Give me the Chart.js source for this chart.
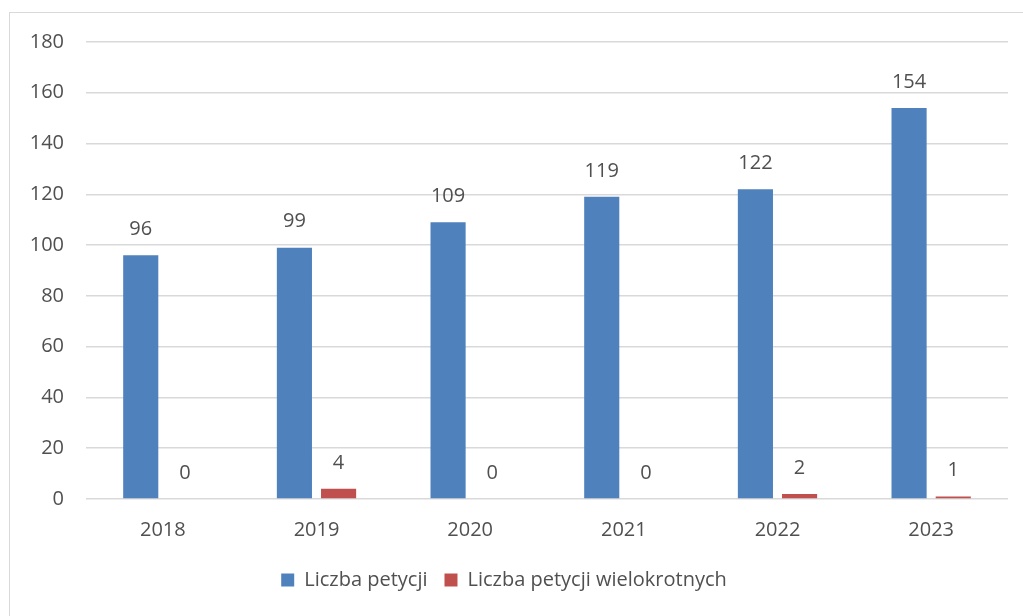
<!DOCTYPE html>
<html>
<head>
<meta charset="utf-8">
<script src="https://cdn.jsdelivr.net/npm/chart.js@4"></script>
<style>
  body { margin: 0; background: #fff; }
  #wrap { position: relative; width: 1023px; height: 616px; overflow: hidden; }
  #frame { position: absolute; left: 9px; top: 12px; width: 1100px; height: 700px; border: 1.5px solid #d9d9d9; }
  canvas { position: absolute; left: 0; top: 0; }
</style>
</head>
<body>
<div id="wrap">
  <div id="frame"></div>
  <canvas id="chart" width="1023" height="616"></canvas>
</div>
<script>
// chart data
const years = ['2018', '2019', '2020', '2021', '2022', '2023'];
const petitions = [96, 99, 109, 119, 122, 154];
const multiPetitions = [0, 4, 0, 0, 2, 1];
const seriesNames = ['Liczba petycji', 'Liczba petycji wielokrotnych'];

const textColor = '#505050';
const fontFamily = '"Open Sans", sans-serif';

// draw value above each bar
const valueLabels = {
    id: 'valueLabels',
    afterDatasetsDraw(chart) {
        const ctx = chart.ctx;
        ctx.save();
        ctx.fillStyle = textColor;
        ctx.font = '20px ' + fontFamily;
        ctx.textAlign = 'center';
        ctx.textBaseline = 'middle';
        chart.data.datasets.forEach((ds, i) => {
            chart.getDatasetMeta(i).data.forEach((bar, j) => {
                ctx.fillText(ds.data[j], bar.x, bar.y - 26);
            });
        });
        ctx.restore();
    }
};

const ctx = document.getElementById('chart').getContext('2d');
const chart = new Chart(ctx, {
    type: 'bar',
    data: {
        labels: years,
        datasets: [{
            label: seriesNames[0],
            data: petitions,
            backgroundColor: '#4F81BD'
        }, {
            label: seriesNames[1],
            data: multiPetitions,
            backgroundColor: '#C0504D'
        }]
    },
    options: {
        responsive: false,
        animation: false,
        categoryPercentage: 0.575,
        barPercentage: 0.795,
        layout: { padding: { top: 42, right: 15, left: 0, bottom: 16 } },
        plugins: {
            tooltip: { enabled: false },
            legend: {
                position: 'bottom',
                labels: {
                    color: textColor,
                    font: { family: fontFamily, size: 20 },
                    boxWidth: 13,
                    boxHeight: 13,
                    padding: 17
                }
            }
        },
        scales: {
            x: {
                grid: { display: false },
                border: { display: false },
                ticks: { color: textColor, font: { family: fontFamily, size: 20 }, padding: 11 }
            },
            y: {
                min: 0,
                max: 180,
                ticks: { stepSize: 20, color: textColor, font: { family: fontFamily, size: 20 }, padding: 22 },
                grid: { color: '#d9d9d9', lineWidth: 1.5, drawTicks: false },
                border: { display: false },
                afterFit(scale) { scale.width = 86; }
            }
        }
    },
    plugins: [valueLabels]
});
</script>
</body>
</html>
